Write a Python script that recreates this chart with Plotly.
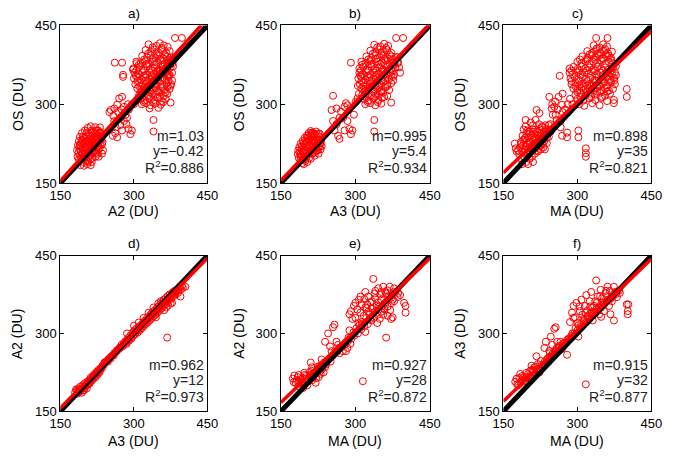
import plotly.graph_objects as go

# ---------------- data (DU) ----------------
panel_labels = ["a)", "b)", "c)", "d)", "e)", "f)"]
x_titles = ["A2 (DU)", "A3 (DU)", "MA (DU)", "A3 (DU)", "MA (DU)", "MA (DU)"]
y_titles = ["OS (DU)", "OS (DU)", "OS (DU)", "A2 (DU)", "A2 (DU)", "A3 (DU)"]
slopes = [1.03, 0.995, 0.898, 0.962, 0.927, 0.915]
intercepts = [-0.42, 5.4, 35, 12, 28, 32]
slope_txt = ["m=1.03", "m=0.995", "m=0.898", "m=0.962", "m=0.927", "m=0.915"]
icpt_txt = ["y=\u22120.42", "y=5.4", "y=35", "y=12", "y=28", "y=32"]
r2_txt = ["0.886", "0.934", "0.821", "0.973", "0.872", "0.877"]
tick_vals = [150, 300, 450]
axis_range = [150, 450]

pts_a = [
    (184,212),(185,200),(186,222),(187,208),(188,195),(188,230),(189,215),(190,203),(190,238),(191,184),
    (191,222),(192,210),(193,196),(194,230),(194,245),(195,216),(196,204),(197,224),(197,190),(198,236),
    (198,183),(199,212),(200,250),(200,227),(201,200),(202,218),(203,240),(203,208),(204,192),(205,230),
    (206,255),(206,215),(207,222),(208,200),(208,244),(209,234),(210,212),(211,226),(212,258),(212,196),
    (213,240),(214,218),(215,230),(216,206),(217,248),(218,222),(219,236),(220,212),(221,256),(222,228),
    (223,244),(224,218),(225,234),(226,206),(227,250),(228,226),(229,240),(230,216),(231,256),(232,232),
    (233,246),(235,224),(236,240),(222,200),(214,190),(228,200),(235,206),(237,212),(205,186),(212,184),
    (189,220),(192,226),(194,205),(196,238),(198,212),(200,198),(202,230),(204,246),(206,224),(208,210),
    (210,240),(212,218),(214,250),(216,234),(218,212),(220,244),(222,222),(224,250),(226,238),(228,214),
    (230,246),(232,222),(234,236),(236,228),(199,204),(207,190),(216,198),(224,208),(211,204),(219,226),
    (203,216),(195,232),(213,232),(227,220),
    (253,289),(260,292),(270,311),(276,314),(266,299),(280,295),(283,280),(260,268),(263,256),(257,240),
    (266,237),(276,250),(289,253),(296,250),(293,243),(273,274),(280,268),(286,274),(268,285),(275,290),
    (290,290),(295,298),(300,300),(258,278),(272,260),(285,262),(262,245),(250,285),(288,300),
    (261,379),(276,379),(278,356),(278,352),
    (330,414),(346,411),(353,416),(361,412),(369,409),
    (324,403),(334,400),(342,404),(350,399),(358,403),(366,398),(373,401),
    (317,392),(327,389),(335,393),(344,388),(352,392),(360,387),(368,391),(376,389),
    (305,381),(314,378),(323,382),(331,377),(339,381),(347,379),(355,383),(363,377),(371,380),(379,378),
    (299,368),(311,371),(319,367),(327,372),(335,368),(343,370),(351,366),(359,371),(367,367),(375,370),
    (301,360),(309,357),(317,361),(325,356),(333,360),(341,358),(349,362),(357,357),(365,360),(373,356),
    (300,349),(307,352),(315,347),(323,351),(331,348),(339,350),(347,346),(355,351),(363,348),(371,352),
    (303,338),(311,341),(319,337),(327,340),(335,336),(343,339),(351,342),(359,337),(367,340),(376,338),
    (307,330),(315,327),(323,331),(331,328),(339,330),(347,326),(355,331),(363,327),(373,329),
    (311,318),(319,321),(329,317),(337,320),(345,318),(353,322),(361,316),(368,320),
    (313,310),(321,307),(331,311),(341,308),(349,312),(357,306),(365,310),
    (316,300),(325,302),(334,298),(344,301),(355,299),(332,292),(350,293),
    (338,408),(357,407),(329,396),(346,395),(363,394),(321,385),(338,386),(354,386),(370,385),(310,375),
    (326,376),(342,375),(358,375),(374,375),(305,364),(321,364),(337,364),(353,364),(369,363),(304,354),
    (320,354),(336,354),(352,355),(368,355),(307,344),(323,345),(339,344),(355,345),(371,345),(311,334),
    (327,334),(343,333),(359,333),(369,334),(315,324),(333,324),(349,324),(365,323),(317,314),(335,314),
    (353,314),(320,304),(340,304),(360,304),(378,345),(378,360),(380,372),
    (375,384),(375,335),(372,354),(375,303),(340,270),(340,248),(384,426),(398,426),(306,378),(298,366),
]

pts_b = [
    (184,205),(185,212),(186,198),(187,218),(188,208),(189,193),(190,225),(191,214),(192,202),(193,188),
    (194,230),(195,219),(196,207),(197,195),(198,236),(199,224),(200,212),(201,200),(202,240),(203,228),
    (204,216),(205,204),(206,245),(207,233),(208,221),(209,210),(210,249),(211,238),(212,226),(213,214),
    (214,246),(215,232),(216,220),(217,208),(218,242),(219,228),(220,216),(221,248),(222,236),(223,224),
    (224,212),(225,244),(226,232),(227,220),(228,238),(229,226),(230,214),(231,232),(232,220),(196,186),
    (203,190),(210,196),(218,202),(226,206),(190,200),(200,220),(208,232),(215,240),
    (189,204),(192,220),(194,196),(196,226),(198,214),(200,230),(202,206),(204,236),(206,222),(208,212),
    (210,240),(212,232),(214,218),(216,244),(218,228),(220,210),(222,242),(224,230),(226,218),(228,244),
    (230,226),(199,192),(207,198),(214,206),(222,212),(205,240),(212,246),(195,210),
    (255,316),(252,289),(262,292),(268,274),(278,295),(281,302),(255,268),(262,262),(258,250),(265,240),
    (268,234),(278,250),(288,253),(291,243),(294,250),(275,274),(284,268),(304,311),(301,305),(271,286),
    (297,280),(284,298),(291,379),
    (338,413),(350,410),(358,415),(366,411),
    (330,402),(340,399),(348,404),(356,400),(364,403),(372,398),
    (322,391),(332,388),(341,393),(349,389),(357,392),(365,387),(373,391),(381,388),
    (312,381),(320,378),(329,382),(337,377),(345,381),(353,379),(361,383),(369,377),(377,380),(385,378),
    (308,368),(316,371),(324,367),(332,372),(340,368),(348,370),(356,366),(364,371),(372,367),(380,370),
    (308,360),(314,357),(322,361),(330,356),(338,360),(346,358),(354,362),(362,357),(370,360),(378,356),
    (306,349),(312,352),(320,347),(328,351),(336,348),(344,350),(352,346),(360,351),(368,348),(376,352),
    (309,338),(316,341),(324,337),(332,340),(340,336),(348,339),(356,342),(364,337),(372,340),
    (312,330),(320,327),(328,331),(336,328),(344,330),(352,326),(360,331),(368,327),
    (314,318),(322,321),(332,317),(340,320),(348,318),(356,322),(364,316),
    (317,310),(326,307),(336,311),(346,308),(354,312),
    (320,300),(330,302),(340,298),(352,301),
    (344,408),(362,407),(335,396),(352,395),(369,394),(326,385),(342,386),(358,386),(374,385),(314,375),
    (330,376),(346,375),(362,375),(378,375),(311,364),(326,364),(342,364),(358,364),(374,363),(310,354),
    (324,354),(340,354),(356,355),(372,355),(312,344),(328,345),(344,344),(360,345),(376,345),(316,334),
    (332,334),(348,333),(364,334),(318,324),(336,324),(352,324),(320,314),(340,314),(358,314),(325,304),
    (345,304),
    (338,270),(338,248),(372,303),(382,426),(396,426),(386,380),(388,370),(390,360),(384,390),(305,335),(307,320),
]

pts_c = [
    (173,225),(175,216),(177,210),(182,205),(184,218),(185,228),(186,196),(188,210),(189,240),(190,222),
    (191,252),(192,200),(193,232),(194,214),(195,258),(196,190),(197,244),(198,224),(199,206),(200,236),
    (201,216),(202,248),(203,196),(204,228),(205,210),(206,240),(207,220),(208,200),(209,252),(210,232),
    (211,214),(212,244),(213,226),(214,206),(215,236),(216,218),(217,289),(218,248),(219,228),(220,210),
    (221,240),(222,222),(223,283),(224,252),(225,232),(226,214),(227,244),(228,226),(229,256),(230,236),
    (231,218),(232,248),(233,230),(235,260),(236,242),(238,226),(240,252),(242,238),(243,314),(245,262),
    (246,248),(248,292),(249,300),(200,186),(210,190),(188,186),(215,270),(205,265),(195,270),
    (180,212),(186,225),(190,208),(194,236),(196,220),(200,204),(202,228),(204,244),(206,216),(208,236),
    (212,222),(214,252),(216,232),(218,212),(220,246),(222,232),(224,220),(226,240),(228,258),(230,224),
    (232,240),(234,214),(236,252),(238,236),(240,244),(242,260),(244,250),(190,232),(198,250),(210,260),
    (222,262),
    (262,314),(269,299),(253,295),(256,280),(266,268),(264,354),(260,290),(258,270),(250,280),(270,285),
    (275,290),(280,300),(266,256),(269,240),(279,246),(279,237),(302,250),(302,237),(317,216),(317,207),
    (317,200),(285,310),(290,300),(270,320),(255,305),
    (333,412),(345,408),(352,414),(360,410),
    (320,401),(330,398),(338,403),(346,399),(354,402),(362,397),(370,400),
    (310,391),(320,388),(328,393),(336,389),(344,392),(352,387),(360,391),(368,388),
    (300,381),(308,378),(316,382),(324,377),(332,381),(340,379),(348,383),(356,377),(364,380),(372,378),
    (284,368),(292,371),(300,367),(308,372),(316,368),(324,370),(332,366),(340,371),(348,367),(356,370),(364,366),(372,369),
    (284,360),(290,357),(298,361),(306,356),(314,360),(322,358),(330,362),(338,357),(346,360),(354,356),(362,361),(370,358),(378,355),
    (286,349),(294,352),(302,347),(310,351),(318,348),(326,350),(334,346),(342,351),(350,348),(358,352),(366,347),(374,350),
    (288,338),(296,341),(304,337),(312,340),(320,336),(328,339),(336,342),(344,337),(352,340),(360,336),(368,341),(376,338),
    (292,330),(300,327),(308,331),(316,328),(324,330),(332,326),(340,331),(348,327),(356,330),(364,326),(372,329),
    (296,318),(306,321),(316,317),(326,320),(336,318),(346,322),(356,316),(366,320),
    (300,310),(312,307),(324,311),(336,308),(348,312),(360,306),
    (304,300),(314,297),(330,302),(345,298),
    (339,406),(356,405),(325,395),(341,396),(357,395),(364,392),(305,385),(320,385),(336,385),(352,386),
    (368,384),(288,364),(304,364),(320,364),(336,364),(352,364),(368,364),(288,344),(304,344),(320,344),
    (336,346),(352,344),(368,344),(296,334),(312,334),(328,334),(344,334),(360,332),(300,323),(320,323),
    (340,324),(360,324),(306,314),(328,314),(350,314),(375,345),(376,360),(378,372),
    (374,308),(374,302),(400,329),(400,314),(338,426),(361,426),
]

pts_d = [
    (180,186),(183,190),(185,184),(187,193),(189,188),(190,197),(192,191),(194,186),(195,200),(197,195),
    (199,191),(200,204),(202,198),(204,194),(205,207),(207,202),(209,210),(210,204),(212,215),(214,209),
    (216,218),(218,213),(220,222),(222,216),(224,226),(226,221),(228,230),(230,225),(233,234),(236,238),
    (239,240),(242,245),(245,247),(248,250),(251,253),(254,256),(257,258),(260,262),(263,264),(266,268),
    (269,270),(272,273),(275,278),(277,275),(280,282),(283,285),(285,280),(288,291),(290,286),(293,296),
    (295,290),(297,300),(299,296),(301,306),(302,298),(304,303),(306,310),(308,302),(310,312),(312,306),
    (314,316),(316,310),(318,320),(320,314),(322,324),(324,318),(326,328),(328,321),(330,332),(332,325),
    (334,336),(336,329),(338,340),(340,333),(342,344),(344,336),(345,331),(346,348),(348,340),(350,352),
    (352,344),(354,356),(356,348),(358,360),(360,352),(361,365),(362,345),(364,356),(365,368),(366,350),
    (368,360),(369,372),(370,354),(372,364),(373,375),(375,358),(377,368),(378,359),(379,379),(381,372),
    (383,382),(385,375),(388,384),(390,378),(392,388),(395,371),(396,384),(398,392),(405,390),(368,292),
    (286,300),(300,315),(310,321),(320,330),(330,340),(340,350),(350,358),(355,362),(345,342),(335,333),
    (182,192),(186,188),(191,194),(196,190),(201,200),(206,203),(211,208),(215,213),(219,218),(223,221),
    (227,226),(231,230),(235,233),(240,244),(247,246),(253,252),(259,258),(265,266),(271,272),(279,278),
    (284,282),(289,288),(294,292),(298,302),(303,300),(307,306),(311,309),(315,313),(319,317),(323,321),
    (327,325),(331,329),(335,337),(339,337),(343,340),(347,344),(351,348),(355,352),(359,356),(363,360),
    (367,364),(371,368),(374,370),(376,372),(380,376),(384,378),(387,380),(391,383),(394,390),(400,388),
]

pts_e = [
    (174,213),(177,219),(184,216),(187,207),(193,204),(200,213),(203,200),(210,244),(213,235),(213,210),
    (219,222),(223,232),(226,216),(229,238),(232,250),(236,225),(239,235),(239,284),(245,300),(249,275),
    (252,266),(255,312),(258,317),(262,284),(265,278),(268,272),(275,266),(281,266),(284,272),(288,306),
    (288,337),(291,343),(294,328),(297,353),(300,359),(304,346),(307,365),(310,371),(313,356),(313,322),
    (317,334),(320,380),(320,303),(323,349),(326,371),(330,328),(333,362),(336,405),(336,340),(339,377),
    (343,353),(346,387),(349,328),(352,365),(356,390),(359,346),(362,377),(362,292),(365,334),(369,390),
    (372,328),(375,331),(375,365),(378,387),(398,359),(401,353),(401,340),(315,208),
    (180,205),(185,198),(190,212),(195,195),(198,220),(205,208),(208,226),(215,215),(220,205),(225,228),
    (230,222),(235,240),(242,246),(248,252),(255,258),(262,264),(270,272),(278,278),(285,285),(292,290),
    (298,296),(305,300),(312,308),(318,314),(325,318),(332,325),(338,330),(345,336),(352,342),(358,348),
    (365,352),(372,358),(378,362),(385,370),(390,374),(300,330),(310,340),(320,350),(330,360),(340,368),
    (350,375),(360,380),(306,320),(326,342),(346,360),(366,372),
    (176,206),(182,210),(186,220),(190,206),(194,214),(197,224),(201,218),(206,212),(209,220),(212,228),
    (216,224),(221,214),(224,236),(228,226),(233,232),(237,244),(241,240),(246,250),(250,246),(253,256),
    (258,262),(264,268),(268,262),(274,276),(280,282),(286,292),(290,280),(296,302),(302,310),(308,316),
    (314,318),(322,330),(328,336),(334,348),(342,344),(348,352),(354,352),(361,360),(368,366),(374,374),
    (380,380),(386,378),(370,345),(356,336),(344,320),(324,356),(318,366),(340,382),(352,380),(364,383),
]

pts_f = [
    (174,207),(177,213),(184,222),(187,210),(194,204),(197,216),(204,228),(207,238),(210,219),(213,235),
    (217,256),(220,241),(223,225),(226,247),(230,235),(233,272),(236,284),(240,244),(243,266),(246,294),
    (249,278),(253,309),(256,312),(259,284),(262,266),(266,284),(269,272),(279,259),(285,322),(289,340),
    (292,353),(295,331),(298,359),(302,294),(305,343),(308,365),(312,328),(315,353),(318,374),(321,334),
    (325,362),(328,380),(331,325),(334,353),(338,402),(341,371),(344,337),(347,384),(351,359),(354,343),
    (357,377),(361,390),(364,353),(367,337),(370,371),(374,325),(374,390),(377,380),(400,356),(403,356),
    (402,343),(402,337),(317,202),
    (180,200),(185,206),(190,215),(195,208),(200,222),(205,214),(210,228),(215,222),(220,232),(225,230),
    (232,240),(238,250),(244,255),(250,262),(256,268),(262,274),(270,280),(276,284),(282,290),(288,296),
    (294,300),(300,306),(306,312),(312,318),(318,322),(324,328),(330,334),(336,340),(342,346),(348,350),
    (354,356),(360,362),(366,366),(372,372),(378,376),(384,382),(300,320),(310,336),(320,344),(330,350),
    (340,360),(350,368),(360,372),(370,362),(380,370),
    (178,202),(182,214),(188,218),(192,210),(196,224),(200,214),(204,218),(208,230),(212,226),(216,236),
    (222,232),(228,240),(234,246),(240,252),(244,262),(248,258),(254,264),(258,272),(264,276),(268,270),
    (274,282),(280,288),(286,292),(290,300),(296,310),(302,316),(308,320),(314,326),(320,332),(326,338),
    (332,342),(338,346),(344,350),(350,354),(356,360),(362,364),(368,368),(374,376),(380,380),(386,378),
    (292,330),(304,352),(316,340),(326,352),(336,362),(346,372),(358,382),(366,382),(348,332),
]

all_pts = [pts_a, pts_b, pts_c, pts_d, pts_e, pts_f]

# ---------------- layout geometry ----------------
W, H = 675, 458
x_px = [(51, 203), (279, 433), (509, 662)]
y_px = [(19, 182), (257, 418)]
ytitle_px = [7, 236, 464.5]
title_py = [7, 244]
xtitle_py = [211, 449]

RED = "#ff0000"
FONT = "Liberation Sans, Arial, sans-serif"

fig = go.Figure()
layout = dict(
    width=W, height=H, margin=dict(l=0, r=0, t=0, b=0),
    paper_bgcolor="white", plot_bgcolor="white", showlegend=False,
    font=dict(family=FONT, size=13, color="black"),
)
annotations = []

for i in range(6):
    row, col = divmod(i, 3)
    n = i + 1
    xa = "x" if n == 1 else f"x{n}"
    ya = "y" if n == 1 else f"y{n}"
    xkey = "xaxis" if n == 1 else f"xaxis{n}"
    ykey = "yaxis" if n == 1 else f"yaxis{n}"
    x0, x1 = x_px[col]
    y0, y1 = y_px[row]
    common = dict(range=axis_range, tickvals=tick_vals, ticks="inside", ticklen=4,
                  tickwidth=1, tickcolor="black", showline=True, linecolor="black",
                  linewidth=1, mirror="ticks", showgrid=False, zeroline=False,
                  tickfont=dict(family=FONT, size=13, color="black"))
    layout[xkey] = dict(common, domain=[x0 / W, x1 / W], anchor=ya)
    layout[ykey] = dict(common, domain=[1 - y1 / H, 1 - y0 / H], anchor=xa)

    xs = [p[0] for p in all_pts[i]]
    ys = [p[1] for p in all_pts[i]]
    fig.add_trace(go.Scatter(x=xs, y=ys, xaxis=xa, yaxis=ya, mode="markers",
                             marker=dict(symbol="circle-open", size=7, color=RED,
                                         line=dict(width=1, color=RED))))
    fig.add_trace(go.Scatter(x=axis_range, y=axis_range, xaxis=xa, yaxis=ya, mode="lines",
                             line=dict(color="black", width=5)))
    fx = axis_range
    fy = [slopes[i] * v + intercepts[i] for v in fx]
    fig.add_trace(go.Scatter(x=fx, y=fy, xaxis=xa, yaxis=ya, mode="lines",
                             line=dict(color=RED, width=3.5)))

    for txt, yv in [(slope_txt[i], 240), (icpt_txt[i], 211), ("R<sup>2</sup>=" + r2_txt[i], 180)]:
        annotations.append(dict(x=450, y=yv, xref=xa, yref=ya, text=txt, showarrow=False,
                                xanchor="right", yanchor="middle", xshift=-1,
                                font=dict(family=FONT, size=14, color="#222222")))
    annotations.append(dict(x=(x0 + x1) / 2 / W, y=1 - title_py[row] / H, xref="paper", yref="paper",
                            text=panel_labels[i], showarrow=False, xanchor="center", yanchor="middle",
                            font=dict(family=FONT, size=13.5, color="black")))
    annotations.append(dict(x=(x0 + x1) / 2 / W, y=1 - xtitle_py[row] / H, xref="paper", yref="paper",
                            text=x_titles[i], showarrow=False, xanchor="center", yanchor="middle",
                            font=dict(family=FONT, size=14, color="black")))
    annotations.append(dict(x=ytitle_px[col] / W, y=1 - (y0 + y1) / 2 / H, xref="paper", yref="paper",
                            text=y_titles[i], showarrow=False, textangle=-90,
                            xanchor="center", yanchor="middle",
                            font=dict(family=FONT, size=14, color="black")))

layout["annotations"] = annotations
fig.update_layout(**layout)
fig.write_html("out.html")
